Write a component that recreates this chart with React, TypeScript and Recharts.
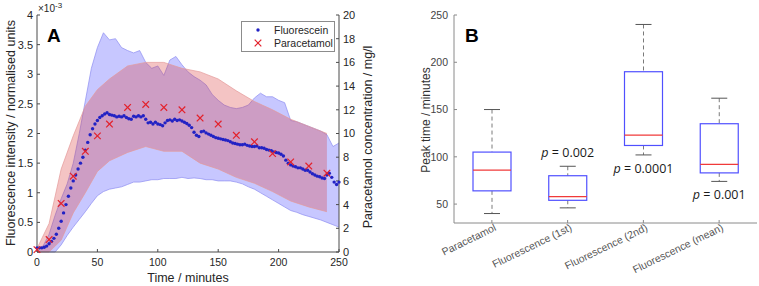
import React from "react";
import { ComposedChart, Area, Scatter, Bar, XAxis, YAxis } from "recharts";

// ---- Panel A ----
// fluorescein intensity (x10^-3 normalised units), one reading every 2 min from t = 0
const fluoValues = [
  0.07, 0.07, 0.07, 0.08, 0.1, 0.14, 0.18, 0.23, 0.3, 0.4,
  0.52, 0.66, 0.8, 0.94, 1.08, 1.2, 1.3, 1.4, 1.5, 1.6,
  1.72, 1.85, 1.98, 2.08, 2.16, 2.22, 2.27, 2.3, 2.33, 2.35,
  2.32, 2.31, 2.3, 2.28, 2.29, 2.28, 2.3, 2.27, 2.25, 2.24,
  2.29, 2.28, 2.3, 2.28, 2.3, 2.24, 2.18, 2.19, 2.16, 2.19,
  2.16, 2.15, 2.13, 2.18, 2.22, 2.23, 2.21, 2.24, 2.22, 2.23,
  2.21, 2.19, 2.17, 2.14, 2.1, 2.02, 1.97, 1.95, 2.03, 2.04,
  2.01, 1.99, 1.97, 1.95, 1.93, 1.92, 1.91, 1.9, 1.89, 1.88,
  1.86, 1.84, 1.83, 1.82, 1.81, 1.81, 1.82, 1.8, 1.79, 1.78,
  1.78, 1.79, 1.76, 1.76, 1.75, 1.73, 1.72, 1.71, 1.69, 1.68,
  1.67, 1.65, 1.62, 1.55, 1.5, 1.47, 1.45, 1.44, 1.42, 1.42,
  1.4, 1.38, 1.38, 1.35, 1.32, 1.3, 1.28, 1.27, 1.25, 1.24,
  1.3, 1.33, 1.26, 1.18, 1.14, 1.18,
];

// fluorescein range band, every 5 min from t = 0
const fluoLow = [
  0, 0, 0, 0, 0.12, 0.28, 0.42, 0.55, 0.68, 0.82, 0.95, 1.02, 1.06, 1.08, 1.1,
  1.14, 1.18, 1.18, 1.2, 1.22, 1.22, 1.24, 1.24, 1.24, 1.26, 1.24, 1.25, 1.24,
  1.22, 1.22, 1.2, 1.2, 1.2, 1.18, 1.15, 1.1, 1.06, 1.0, 0.94, 0.88, 0.82, 0.76,
  0.7, 0.67, 0.63, 0.6, 0.57, 0.54, 0.5, 0.46, 0.42,
];
const fluoHigh = [
  0.05, 0.1, 0.3, 0.62, 0.9, 1.15, 1.5, 2.0, 2.55, 3.1, 3.45, 3.7, 3.58, 3.6,
  3.45, 3.4, 3.36, 3.4, 3.2, 3.1, 3.14, 2.98, 3.24, 3.3, 3.16, 3.04, 2.96, 2.9,
  2.82, 2.66, 2.56, 2.48, 2.44, 2.42, 2.44, 2.48, 2.6, 2.68, 2.62, 2.62, 2.56,
  2.52, 2.22, 2.2, 2.16, 2.12, 2.08, 2.04, 1.98, 1.78, 1.84,
];

// paracetamol (mg/l)
const paraTimes = [0, 10, 20, 30, 40, 50, 60, 75, 90, 105, 120, 135, 150, 165, 180, 195, 210, 225, 240];
const paraValues = [0.2, 1.05, 4.1, 6.4, 8.5, 9.8, 10.8, 12.2, 12.45, 12.2, 12.0, 11.3, 10.8, 9.85, 9.3, 8.3, 7.6, 7.25, 6.65];
const paraLow = [0, 0, 1.0, 3.3, 5.0, 6.8, 7.7, 8.4, 8.9, 8.5, 8.5, 7.5, 7.0, 6.3, 5.8, 5.1, 4.3, 3.8, 3.4];
const paraHigh = [0.3, 2.4, 7.0, 9.8, 12.3, 13.7, 14.6, 15.7, 16.0, 16.0, 15.5, 15.2, 14.6, 13.6, 12.7, 12.0, 11.2, 10.6, 10.0];

const timeTicks = [0, 50, 100, 150, 200, 250];
const fluoTicks = [0, 0.5, 1, 1.5, 2, 2.5, 3, 3.5, 4];
const paraTicks = [0, 2, 4, 6, 8, 10, 12, 14, 16, 18, 20];

// ---- Panel B ----
const boxNames = ["Paracetamol", "Fluorescence (1st)", "Fluorescence (2nd)", "Fluorescence (mean)"];
const boxMin = [40, 46, 102, 74];
const boxQ1 = [64, 54, 112, 83];
const boxMedian = [86, 58, 123, 92];
const boxQ3 = [105, 80, 190, 135];
const boxMax = [150, 90, 240, 162];
const pValues = ["", "0.002", "0.0001", "0.001"];
const peakTicks = [50, 100, 150, 200, 250];

const fluoRows = fluoValues.map((v, i) => ({ t: i * 2, v }));
const fluoBand = fluoLow.map((lo, i) => ({ t: i * 5, lo, hi: fluoHigh[i] }));
const paraRows = paraTimes.map((t, i) => ({ t, c: paraValues[i] }));
const paraBand = paraTimes.map((t, i) => ({ t, lo: paraLow[i], hi: paraHigh[i] }));
const boxRows = boxNames.map((name, i) => ({
  name,
  min: boxMin[i],
  q1: boxQ1[i],
  med: boxMedian[i],
  q3: boxQ3[i],
  max: boxMax[i],
  p: pValues[i],
}));

const font = "'Liberation Sans', Arial, sans-serif";
const axisColor = "#4a4a4a";
const tickStyle = { fontSize: 11, fontFamily: font, fill: "#262626" };

const Dot = (props: any) => <circle cx={props.cx} cy={props.cy} r={1.7} fill="#2222c4" />;

const Cross = (props: any) => {
  const { cx, cy } = props;
  const s = 3.3;
  return (
    <g stroke="#e3212b" strokeWidth={1.2}>
      <line x1={cx - s} y1={cy - s} x2={cx + s} y2={cy + s} />
      <line x1={cx - s} y1={cy + s} x2={cx + s} y2={cy - s} />
    </g>
  );
};

// p label goes above the top whisker for the 1st box, below the bottom whisker otherwise
const BoxShape = (props: any) => {
  const { x, y, width, height, payload, index } = props;
  const d = payload;
  const k = height / (d.q3 - d.q1);
  const cx = x + width / 2;
  const yTop = y - (d.max - d.q3) * k;
  const yBot = y + height + (d.q1 - d.min) * k;
  const yMed = y + (d.q3 - d.med) * k;
  const capW = 8;
  const labelY = index === 1 ? yTop - 9 : yBot + 18;
  return (
    <g>
      <line x1={cx} y1={yTop} x2={cx} y2={y} stroke="#7a7a7a" strokeDasharray="4 3" />
      <line x1={cx} y1={y + height} x2={cx} y2={yBot} stroke="#7a7a7a" strokeDasharray="4 3" />
      <line x1={cx - capW} y1={yTop} x2={cx + capW} y2={yTop} stroke="#555" />
      <line x1={cx - capW} y1={yBot} x2={cx + capW} y2={yBot} stroke="#555" />
      <rect x={x} y={y} width={width} height={height} fill="none" stroke="#5050ff" strokeWidth={1.2} />
      <line x1={x} y1={yMed} x2={x + width} y2={yMed} stroke="#f03a3a" strokeWidth={1.2} />
      {d.p ? (
        <text x={cx} y={labelY} textAnchor="middle" fontSize={12.5} fontFamily="'Open Sans', sans-serif" fill="#1a1a1a">
          <tspan fontStyle="italic">p</tspan> = {d.p}
        </text>
      ) : null}
    </g>
  );
};

const RotatedTick = (props: any) => {
  const { x, y, payload } = props;
  const tx = x + 5;
  const ty = y + 5;
  return (
    <text
      x={tx}
      y={ty}
      transform={`rotate(-26 ${tx} ${ty})`}
      textAnchor="end"
      fontSize={10.5}
      fontFamily={font}
      fill="#555"
    >
      {payload.value}
    </text>
  );
};

export default function App() {
  return (
    <div style={{ position: "absolute", left: 0, top: 0, width: 759, height: 286, background: "#fff" }}>
      <div style={{ position: "absolute", left: 0, top: 0 }}>
        <ComposedChart width={400} height={286} margin={{ top: 15, right: 31, left: 0, bottom: 14 }}>
          <XAxis
            xAxisId="b"
            dataKey="t"
            type="number"
            domain={[0, 250]}
            ticks={timeTicks}
            height={20}
            stroke={axisColor}
            tickSize={-3}
            tickMargin={10}
            tick={{ ...tickStyle, fontSize: 10.5 }}
          />
          <XAxis
            xAxisId="top"
            orientation="top"
            type="number"
            domain={[0, 250]}
            ticks={timeTicks}
            height={0}
            stroke={axisColor}
            tickSize={-3}
            tick={() => <g />}
          />
          <YAxis
            yAxisId="l"
            domain={[0, 4]}
            ticks={fluoTicks}
            width={37}
            stroke={axisColor}
            tickSize={-3}
            tickMargin={7}
            tick={tickStyle}
          />
          <YAxis
            yAxisId="r"
            orientation="right"
            domain={[0, 20]}
            ticks={paraTicks}
            width={30}
            stroke={axisColor}
            tickSize={-3}
            tickMargin={7}
            tick={tickStyle}
          />
          <Area
            xAxisId="b"
            yAxisId="l"
            data={fluoBand}
            dataKey={(d: any) => [d.lo, d.hi]}
            type="linear"
            fill="#0000ff"
            fillOpacity={0.22}
            stroke="#8c8cf0"
            strokeWidth={0.7}
            dot={false}
            activeDot={false}
            isAnimationActive={false}
          />
          <Area
            xAxisId="b"
            yAxisId="r"
            data={paraBand}
            dataKey={(d: any) => [d.lo, d.hi]}
            type="linear"
            fill="#dc3c3c"
            fillOpacity={0.3}
            stroke="#e49a9a"
            strokeWidth={0.7}
            dot={false}
            activeDot={false}
            isAnimationActive={false}
          />
          <Scatter xAxisId="b" yAxisId="l" data={fluoRows} dataKey="v" shape={Dot} isAnimationActive={false} />
          <Scatter xAxisId="b" yAxisId="r" data={paraRows} dataKey="c" shape={Cross} isAnimationActive={false} />
        </ComposedChart>
      </div>

      <div style={{ position: "absolute", left: 400, top: 0 }}>
        <ComposedChart width={359} height={286} data={boxRows} margin={{ top: 15, right: 2, left: 0, bottom: 0 }}>
          <XAxis
            xAxisId="b"
            dataKey="name"
            height={63}
            stroke="#8a8a8a"
            tickSize={-3}
            tickMargin={5}
            interval={0}
            tick={RotatedTick}
          />
          <XAxis
            xAxisId="top"
            dataKey="name"
            orientation="top"
            height={0}
            stroke="#8a8a8a"
            tickSize={-3}
            interval={0}
            tick={() => <g />}
          />
          <YAxis
            yAxisId="l"
            domain={[30, 250]}
            ticks={peakTicks}
            width={54}
            stroke="#8a8a8a"
            tickSize={-3}
            tickMargin={9}
            tick={{ fontSize: 10.5, fontFamily: font, fill: "#444" }}
          />
          <YAxis
            yAxisId="r"
            orientation="right"
            domain={[30, 250]}
            ticks={peakTicks}
            width={0}
            stroke="#8a8a8a"
            tickSize={-3}
            tick={() => <g />}
          />
          <Bar
            xAxisId="b"
            yAxisId="l"
            dataKey={(d: any) => [d.q1, d.q3]}
            barSize={38}
            shape={BoxShape}
            isAnimationActive={false}
          />
        </ComposedChart>
      </div>

      <svg
        width={759}
        height={286}
        style={{ position: "absolute", left: 0, top: 0, pointerEvents: "none" }}
        fontFamily={font}
      >
        <text x={38} y={12} fontSize={10} fill="#262626">
          ×10<tspan dy={-4} fontSize={8}>-3</tspan>
        </text>
        <text x={47} y={42} fontSize={19} fontWeight="bold" fill="#000">A</text>
        <text x={0} y={0} transform="translate(15 133) rotate(-90)" textAnchor="middle" fontSize={12.5} fill="#262626">
          Fluorescence intensity / normalised units
        </text>
        <text x={0} y={0} transform="translate(372 137) rotate(-90)" textAnchor="middle" fontSize={12.5} fill="#262626">
          Paracetamol concentration / mg/l
        </text>
        <text x={188} y={282} textAnchor="middle" fontSize={12.5} fill="#262626">Time / minutes</text>

        <rect x={241.5} y={21.5} width={93} height={30} fill="#fff" stroke="#8c8c8c" />
        <circle cx={258} cy={30} r={1.7} fill="#2222c4" />
        <text x={274} y={34} fontSize={10.5} fill="#262626">Fluorescein</text>
        <g stroke="#e3212b" strokeWidth={1.2}>
          <line x1={254.7} y1={39.7} x2={261.3} y2={46.3} />
          <line x1={254.7} y1={46.3} x2={261.3} y2={39.7} />
        </g>
        <text x={274} y={47} fontSize={10.5} fill="#262626">Paracetamol</text>

        <text x={465} y={42} fontSize={19} fontWeight="bold" fill="#000">B</text>
        <text x={0} y={0} transform="translate(430 120) rotate(-90)" textAnchor="middle" fontSize={12} fill="#333">
          Peak time / minutes
        </text>
      </svg>
    </div>
  );
}
